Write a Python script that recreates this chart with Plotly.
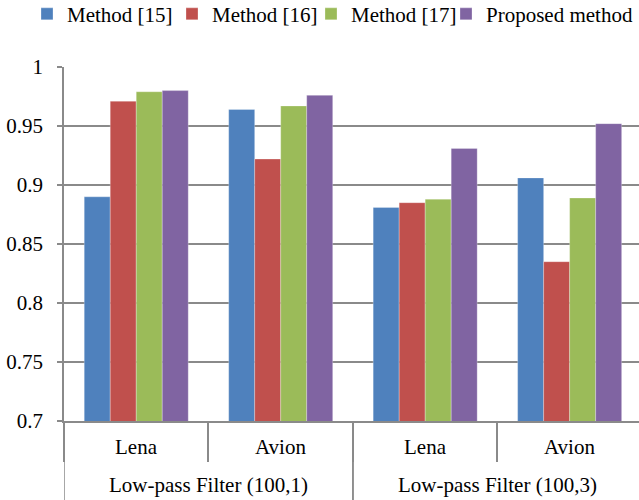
import plotly.graph_objects as go

# Test images (inner level) grouped by filter setting (outer level)
images = ["Lena", "Avion", "Lena", "Avion"]
filters = ["Low-pass Filter (100,1)", "Low-pass Filter (100,3)"]
images_per_filter = 2

method_15 = [0.890, 0.964, 0.881, 0.906]
method_16 = [0.971, 0.922, 0.885, 0.835]
method_17 = [0.979, 0.967, 0.888, 0.889]
proposed = [0.980, 0.976, 0.931, 0.952]

series = [
    ("Method [15]", method_15, "#4F81BD"),
    ("Method [16]", method_16, "#C0504D"),
    ("Method [17]", method_17, "#9BBB59"),
    ("Proposed method", proposed, "#8064A2"),
]

font_family = "Times New Roman, Liberation Serif, serif"
font_size = 21
axis_grey = "#8a8a8a"

W, H = 639, 500
M_L, M_R, M_T, M_B = 64, 0, 67, 79
plot_w = W - M_L - M_R
plot_h = H - M_T - M_B

# Left edge (px) of each legend entry along the top row
legend_left_px = [27, 172, 311, 446]
legend_names = ["legend", "legend2", "legend3", "legend4"]

positions = list(range(len(images)))

fig = go.Figure()
for (name, vals, color), lg in zip(series, legend_names):
    fig.add_trace(go.Bar(
        name=name,
        x=positions,
        y=vals,
        legend=lg,
        marker=dict(color=color, line=dict(color="rgba(255,255,255,0.35)", width=0.8)),
    ))

legend_style = dict(
    orientation="h",
    xanchor="left",
    y=1.207, yanchor="top",
    font=dict(family=font_family, size=font_size, color="black"),
    itemwidth=30,
    bgcolor="rgba(0,0,0,0)",
)
legends = {
    lg: dict(legend_style, x=(px - M_L) / plot_w)
    for lg, px in zip(legend_names, legend_left_px)
}

fig.update_layout(
    width=W, height=H,
    barmode="group",
    bargap=0.28,
    bargroupgap=0,
    paper_bgcolor="white",
    plot_bgcolor="white",
    margin=dict(l=M_L, r=M_R, t=M_T, b=M_B, autoexpand=False),
    font=dict(family=font_family, size=font_size, color="black"),
    showlegend=True,
    **legends,
)

fig.update_yaxes(
    range=[0.7, 1.0],
    tickvals=[0.7, 0.75, 0.8, 0.85, 0.9, 0.95, 1.0],
    ticktext=["0.7", "0.75", "0.8", "0.85", "0.9", "0.95", "1"],
    showgrid=True, gridcolor=axis_grey, gridwidth=1.5,
    showline=True, linecolor=axis_grey, linewidth=1.5,
    ticks="outside", ticklen=5, tickcolor=axis_grey, tickwidth=1.5,
    ticklabelstandoff=10,
    tickfont=dict(family=font_family, size=font_size, color="black"),
    zeroline=False,
)

# Category boundaries carry the short tick marks
boundaries = [p - 0.5 for p in positions] + [positions[-1] + 0.5]
fig.update_xaxes(
    range=[-0.5, 3.48],
    tickvals=boundaries,
    ticktext=[""] * len(boundaries),
    showline=True, linecolor=axis_grey, linewidth=1.5,
    ticks="outside", ticklen=39, tickcolor=axis_grey, tickwidth=1.5,
    showgrid=False, zeroline=False,
)

# Inner labels (image names)
for p, name in zip(positions, images):
    fig.add_annotation(
        x=p, xref="x", y=-26 / plot_h, yref="paper",
        text=name, showarrow=False, yanchor="middle",
        font=dict(family=font_family, size=font_size, color="black"),
    )

# Outer labels (filter settings) and full-height dividers between groups
for g, fname in enumerate(filters):
    first = g * images_per_filter
    last = first + images_per_filter - 1
    fig.add_annotation(
        x=(positions[first] + positions[last]) / 2, xref="x",
        y=-64 / plot_h, yref="paper",
        text=fname, showarrow=False, yanchor="middle",
        font=dict(family=font_family, size=font_size, color="black"),
    )
    for edge in (positions[first] - 0.5, positions[last] + 0.5):
        fig.add_shape(
            type="line", xref="x", yref="paper",
            x0=edge, x1=edge, y0=0, y1=-M_B / plot_h,
            line=dict(color=axis_grey, width=1.5),
        )

fig.write_html("out.html")
